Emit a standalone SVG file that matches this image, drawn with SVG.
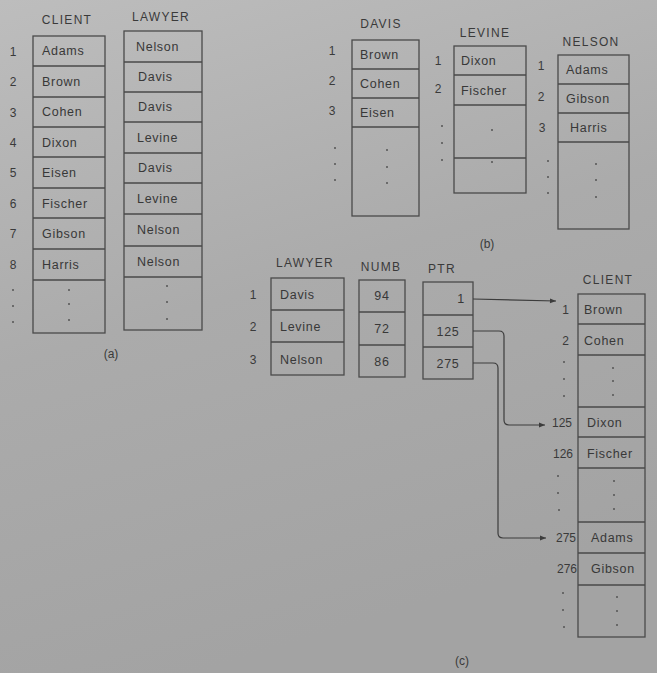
<svg xmlns="http://www.w3.org/2000/svg" width="657" height="673" viewBox="0 0 657 673">
<defs>
<linearGradient id="bg" x1="0" y1="0" x2="0.3" y2="1">
<stop offset="0" stop-color="#bdbdbd"/>
<stop offset="0.5" stop-color="#ababab"/>
<stop offset="1" stop-color="#a3a3a3"/>
</linearGradient>
<marker id="ah" viewBox="0 0 10 10" refX="10" refY="5" markerWidth="7" markerHeight="6" orient="auto" markerUnits="userSpaceOnUse">
<path d="M0,1 L10,5 L0,9 z" fill="#3c3c3c"/>
</marker>
<style>
.cell{fill:none;stroke:#4a4a4a;stroke-width:1.3}
.t{font-family:"Liberation Sans",Arial,sans-serif;font-size:12.5px;letter-spacing:0.7px;fill:#383838}
.h{font-family:"Liberation Sans",Arial,sans-serif;font-size:12px;letter-spacing:1.3px;fill:#3a3a3a;text-anchor:middle}
.n{font-family:"Liberation Sans",Arial,sans-serif;font-size:12px;fill:#3a3a3a;text-anchor:middle}
.r{font-family:"Liberation Sans",Arial,sans-serif;font-size:12px;fill:#3a3a3a;text-anchor:end}
.c{text-anchor:middle}
.d{fill:#555}
.cap{font-family:"Liberation Sans",Arial,sans-serif;font-size:12px;fill:#3a3a3a;text-anchor:middle}
.conn{fill:none;stroke:#3c3c3c;stroke-width:1.2}
</style>
</defs>
<rect width="657" height="673" fill="url(#bg)"/>

<!-- (a) CLIENT -->
<g id="a-client">
<text class="h" x="67" y="24">CLIENT</text>
<rect class="cell" x="33" y="36" width="72" height="297"/>
<path class="cell" d="M33 66H105M33 97H105M33 127H105M33 157H105M33 188H105M33 218H105M33 249H105M33 280H105"/>
<text class="t" x="42" y="55">Adams</text>
<text class="t" x="42" y="86">Brown</text>
<text class="t" x="42" y="116">Cohen</text>
<text class="t" x="42" y="147">Dixon</text>
<text class="t" x="42" y="177">Eisen</text>
<text class="t" x="42" y="208">Fischer</text>
<text class="t" x="42" y="238">Gibson</text>
<text class="t" x="42" y="269">Harris</text>
<circle class="d" cx="69" cy="290" r="1"/><circle class="d" cx="69" cy="304" r="1"/><circle class="d" cx="69" cy="320" r="1"/>
<text class="n" x="13" y="56">1</text>
<text class="n" x="13" y="86">2</text>
<text class="n" x="13" y="117">3</text>
<text class="n" x="13" y="147">4</text>
<text class="n" x="13" y="177">5</text>
<text class="n" x="13" y="208">6</text>
<text class="n" x="13" y="238">7</text>
<text class="n" x="13" y="269">8</text>
<circle class="d" cx="13" cy="290" r="1"/><circle class="d" cx="13" cy="306" r="1"/><circle class="d" cx="13" cy="322" r="1"/>
</g>

<!-- (a) LAWYER -->
<g id="a-lawyer">
<text class="h" x="161" y="21">LAWYER</text>
<rect class="cell" x="124" y="31" width="78" height="299"/>
<path class="cell" d="M124 62H202M124 92H202M124 122H202M124 153H202M124 183H202M124 214H202M124 246H202M124 277H202"/>
<text class="t" x="136" y="51">Nelson</text>
<text class="t" x="138" y="81">Davis</text>
<text class="t" x="138" y="111">Davis</text>
<text class="t" x="137" y="142">Levine</text>
<text class="t" x="138" y="172">Davis</text>
<text class="t" x="137" y="203">Levine</text>
<text class="t" x="137" y="234">Nelson</text>
<text class="t" x="137" y="266">Nelson</text>
<circle class="d" cx="167" cy="286" r="1"/><circle class="d" cx="167" cy="302" r="1"/><circle class="d" cx="167" cy="319" r="1"/>
</g>
<text class="cap" x="111" y="358">(a)</text>

<!-- (b) DAVIS -->
<g id="b-davis">
<text class="h" x="381" y="28">DAVIS</text>
<rect class="cell" x="352" y="40" width="67" height="176"/>
<path class="cell" d="M352 69H419M352 98H419M352 127H419"/>
<text class="t" x="360" y="59">Brown</text>
<text class="t" x="360" y="88">Cohen</text>
<text class="t" x="360" y="117">Eisen</text>
<circle class="d" cx="387" cy="150" r="1"/><circle class="d" cx="387" cy="167" r="1"/><circle class="d" cx="387" cy="183" r="1"/>
<text class="n" x="332" y="55">1</text>
<text class="n" x="332" y="85">2</text>
<text class="n" x="332" y="115">3</text>
<circle class="d" cx="335" cy="148" r="1"/><circle class="d" cx="335" cy="164" r="1"/><circle class="d" cx="335" cy="180" r="1"/>
</g>

<!-- (b) LEVINE -->
<g id="b-levine">
<text class="h" x="485" y="37">LEVINE</text>
<rect class="cell" x="454" y="46" width="72" height="147"/>
<path class="cell" d="M454 75H526M454 105H526M454 158H526"/>
<text class="t" x="461" y="65">Dixon</text>
<text class="t" x="461" y="95">Fischer</text>
<circle class="d" cx="492" cy="130" r="1"/><circle class="d" cx="492" cy="162" r="1"/>
<text class="n" x="438" y="65">1</text>
<text class="n" x="438" y="93">2</text>
<circle class="d" cx="442" cy="126" r="1"/><circle class="d" cx="442" cy="143" r="1"/><circle class="d" cx="442" cy="160" r="1"/>
</g>

<!-- (b) NELSON -->
<g id="b-nelson">
<text class="h" x="591" y="46">NELSON</text>
<rect class="cell" x="558" y="55" width="71" height="174"/>
<path class="cell" d="M558 84H629M558 113H629M558 142H629"/>
<text class="t" x="566" y="74">Adams</text>
<text class="t" x="566" y="103">Gibson</text>
<text class="t" x="570" y="132">Harris</text>
<circle class="d" cx="596" cy="164" r="1"/><circle class="d" cx="596" cy="180" r="1"/><circle class="d" cx="596" cy="197" r="1"/>
<text class="n" x="541" y="70">1</text>
<text class="n" x="541" y="101">2</text>
<text class="n" x="542" y="132">3</text>
<circle class="d" cx="548" cy="161" r="1"/><circle class="d" cx="548" cy="177" r="1"/><circle class="d" cx="548" cy="193" r="1"/>
</g>
<text class="cap" x="487" y="248">(b)</text>

<!-- (c) LAWYER -->
<g id="c-lawyer">
<text class="h" x="305" y="267">LAWYER</text>
<rect class="cell" x="271" y="278" width="73" height="97"/>
<path class="cell" d="M271 310H344M271 342H344"/>
<text class="t" x="280" y="299">Davis</text>
<text class="t" x="280" y="331">Levine</text>
<text class="t" x="280" y="364">Nelson</text>
<text class="n" x="253" y="299">1</text>
<text class="n" x="253" y="331">2</text>
<text class="n" x="253" y="364">3</text>
</g>

<!-- (c) NUMB -->
<g id="c-numb">
<text class="h" x="381" y="271">NUMB</text>
<rect class="cell" x="359" y="280" width="46" height="97"/>
<path class="cell" d="M359 312H405M359 345H405"/>
<text class="t c" x="382" y="300">94</text>
<text class="t c" x="382" y="333">72</text>
<text class="t c" x="382" y="366">86</text>
</g>

<!-- (c) PTR -->
<g id="c-ptr">
<text class="h" x="442" y="273">PTR</text>
<rect class="cell" x="423" y="282" width="50" height="97"/>
<path class="cell" d="M423 315H473M423 347H473"/>
<text class="t" x="465" y="303" text-anchor="end">1</text>
<text class="t c" x="448" y="336">125</text>
<text class="t c" x="448" y="368">275</text>
</g>

<!-- (c) CLIENT -->
<g id="c-client">
<text class="h" x="608" y="284">CLIENT</text>
<rect class="cell" x="578" y="294" width="67" height="343"/>
<path class="cell" d="M578 324H645M578 355H645M578 407H645M578 437H645M578 468H645M578 522H645M578 553H645M578 585H645"/>
<text class="t" x="584" y="314">Brown</text>
<text class="t" x="584" y="345">Cohen</text>
<circle class="d" cx="613" cy="368" r="1"/><circle class="d" cx="613" cy="381" r="1"/><circle class="d" cx="613" cy="395" r="1"/>
<text class="t" x="587" y="427">Dixon</text>
<text class="t" x="587" y="458">Fischer</text>
<circle class="d" cx="614" cy="481" r="1"/><circle class="d" cx="614" cy="495" r="1"/><circle class="d" cx="614" cy="509" r="1"/>
<text class="t" x="591" y="542">Adams</text>
<text class="t" x="591" y="573">Gibson</text>
<circle class="d" cx="617" cy="597" r="1"/><circle class="d" cx="617" cy="611" r="1"/><circle class="d" cx="617" cy="625" r="1"/>
<text class="r" x="569" y="314">1</text>
<text class="r" x="569" y="345">2</text>
<circle class="d" cx="564" cy="362" r="1"/><circle class="d" cx="564" cy="379" r="1"/><circle class="d" cx="564" cy="396" r="1"/>
<text class="r" x="572" y="427">125</text>
<text class="r" x="573" y="458">126</text>
<circle class="d" cx="558" cy="476" r="1"/><circle class="d" cx="558" cy="493" r="1"/><circle class="d" cx="559" cy="510" r="1"/>
<text class="r" x="576" y="542">275</text>
<text class="r" x="577" y="573">276</text>
<circle class="d" cx="563" cy="593" r="1"/><circle class="d" cx="563" cy="610" r="1"/><circle class="d" cx="564" cy="627" r="1"/>
</g>
<text class="cap" x="462" y="665">(c)</text>

<!-- connectors -->
<g id="connectors">
<path class="conn" marker-end="url(#ah)" d="M473 299 L556 301"/>
<path class="conn" marker-end="url(#ah)" d="M473 331 H499 Q504 331 504 336 V420 Q504 425 509 425 H545"/>
<path class="conn" marker-end="url(#ah)" d="M473 363 H493 Q498 363 498 368 V533 Q498 538 503 538 H546"/>
</g>
</svg>
